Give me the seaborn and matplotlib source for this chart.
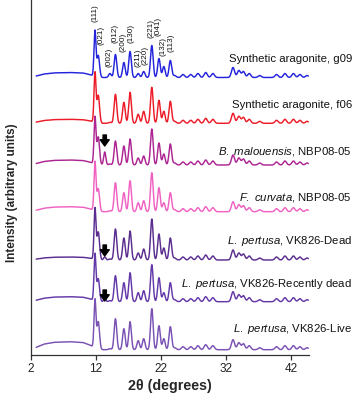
import numpy as np
import pandas as pd
import matplotlib
matplotlib.use('Agg')
import matplotlib.pyplot as plt
import seaborn as sns

# peak positions (2theta, degrees)
hkl = ['(111)', '(021)', '(002)', '(012)', '(200)', '(130)',
       '(211)', '(220)', '(221)', '(041)', '(132)', '(113)']
major_pos = [11.85, 12.35, 14.15, 15.0, 16.3, 17.25, 18.5, 19.35, 20.6, 21.7, 22.45, 23.45]
calcite_pos = 13.35

minor_pos = [24.1, 25.4, 26.6, 27.7, 28.9, 30.0, 33.1, 34.0, 34.7, 35.6, 37.2, 39.8, 41.1, 42.4, 43.4, 44.5]
minor_h = [2, 3, 3, 4, 5, 4, 10, 7, 6, 4, 2, 3, 4, 4, 3, 2]

# broad low-angle hump
bg_x = [2.8, 4.0, 5.5, 8.0, 10.0, 11.2, 12.0, 45.0]
bg_shape = [0.3, 0.7, 0.92, 1.0, 0.9, 0.55, 0.0, 0.0]

samples = ['g09', 'f06', 'mal', 'curv', 'dead', 'rdead', 'live']
labels = ['Synthetic aragonite, g09',
          'Synthetic aragonite, f06',
          r'$\mathit{B.\ malouensis}$, NBP08-05',
          r'$\mathit{F.\ curvata}$, NBP08-05',
          r'$\mathit{L.\ pertusa}$, VK826-Dead',
          r'$\mathit{L.\ pertusa}$, VK826-Recently dead',
          r'$\mathit{L.\ pertusa}$, VK826-Live']
colors = ['#2424dc', '#ec1c28', '#ad2592', '#f062c2', '#5a2d8f', '#6338a8', '#7a52b4']

# vertical offsets of each trace and major peak heights (arbitrary units)
offsets = [277.5, 231.7, 190.0, 143.3, 95.0, 53.3, 5.3]
hump = [5, 4, 5, 5, 3, 5, 8]
calcite_h = [0, 0, 13, 0, 3, 3, 0]
g09_h = [46, 22, 4, 23, 15, 26, 4, 6, 32, 19, 11, 17]
f06_h = [50, 28, 1, 29, 21, 31, 9, 12, 36, 23, 12, 22]
mal_h = [47, 28, 1, 24, 19, 26, 7, 9, 36, 22, 11, 21]
curv_h = [49, 23, 1, 29, 19, 31, 9, 11, 39, 24, 9, 19]
dead_h = [51, 28, 1, 31, 22, 29, 7, 11, 41, 26, 12, 22]
rdead_h = [47, 23, 1, 26, 19, 29, 9, 11, 37, 24, 9, 19]
live_h = [49, 28, 1, 31, 21, 28, 9, 11, 41, 24, 11, 23]
heights = [g09_h, f06_h, mal_h, curv_h, dead_h, rdead_h, live_h]

# layout: pixel rows
label_y = [59, 105, 152, 198, 241, 284, 329]
hkl_x = [11.85, 12.8, 14.05, 14.95, 16.15, 17.35, 18.4, 19.5, 20.45, 21.6, 22.3, 23.5]
hkl_bottom = [22, 45, 67, 43, 52, 43, 67, 65, 38, 36, 56, 52]
arrow_tips = {'mal': 209, 'dead': 99, 'rdead': 54}

tt = np.linspace(2.8, 44.7, 3000)


def gauss(x, c, h, s):
    return h * np.exp(-0.5 * ((x - c) / s) ** 2)


rows = []
for i, name in enumerate(samples):
    y = offsets[i] + hump[i] * np.interp(tt, bg_x, bg_shape)
    for j, (c, h) in enumerate(zip(major_pos, heights[i])):
        y = y + gauss(tt, c, h, 0.15 if j == 0 else 0.2)
    y = y + gauss(tt, calcite_pos, calcite_h[i], 0.17)
    for c, h in zip(minor_pos, minor_h):
        y = y + gauss(tt, c, h, 0.24)
    rows.append(pd.DataFrame({'two_theta': tt, 'intensity': y, 'sample': name}))
df = pd.concat(rows, ignore_index=True)

sns.set_theme(style='ticks')
plt.rcParams['font.family'] = ['Liberation Sans', 'DejaVu Sans']
plt.rcParams['mathtext.fontset'] = 'custom'
plt.rcParams['mathtext.rm'] = 'Liberation Sans'
plt.rcParams['mathtext.it'] = 'Liberation Sans:italic'

fig = plt.figure(figsize=(3.54, 4.0), dpi=100)
ax = fig.add_axes([31 / 354, 45 / 400, 278 / 354, 355 / 400])

sns.lineplot(data=df, x='two_theta', y='intensity', hue='sample', hue_order=samples,
             palette=colors, legend=False, linewidth=1.05, ax=ax, sort=False)

ax.set_xlim(2, 44.8)
ax.set_ylim(0, 355)
ax.set_xticks([2, 12, 22, 32, 42])
ax.set_yticks([])
for s in ['top', 'right']:
    ax.spines[s].set_visible(False)
for s in ['left', 'bottom']:
    ax.spines[s].set_color('#333333')
    ax.spines[s].set_linewidth(0.9)
ax.tick_params(axis='x', direction='out', length=3.5, width=0.9, color='#333333',
               labelsize=8.5, pad=2, labelcolor='#222222')
ax.set_xlabel('2θ (degrees)', fontsize=10.3, fontweight='bold', labelpad=3)
ax.set_ylabel('Intensity (arbitrary units)', fontsize=8.5, fontweight='bold')
ax.yaxis.set_label_coords(-0.045, 0.456)

# Miller indices on the top trace
for lab, xp, yb in zip(hkl, hkl_x, hkl_bottom):
    ax.text(xp, 355 - yb, lab, rotation=90, ha='center', va='bottom',
            fontsize=5.9, color='#111111')

# arrows marking the extra peak
for name, tip in arrow_tips.items():
    ax.annotate('', xy=(calcite_pos, tip), xytext=(calcite_pos, tip + 11),
                arrowprops=dict(facecolor='black', edgecolor='black', width=2.4,
                                headwidth=6.5, headlength=4.5, shrink=0))

for lab, yp in zip(labels, label_y):
    fig.text(352 / 354, 1 - yp / 400, lab, ha='right', va='center', fontsize=8.2,
             color='#111111')

fig.savefig('out.png', dpi=100)
